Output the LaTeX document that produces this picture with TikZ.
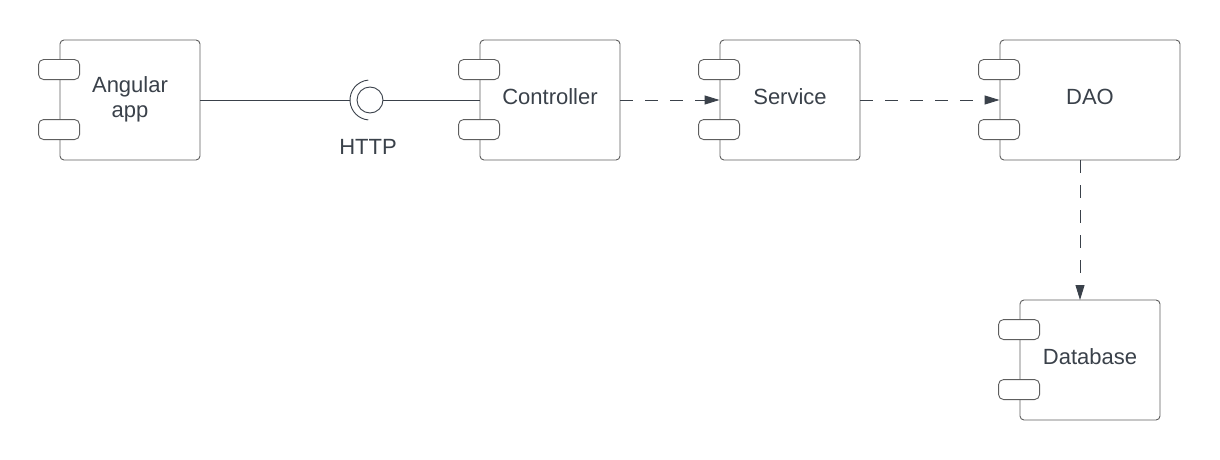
\documentclass[tikz,border=0pt]{standalone}
\usepackage{fontspec}
\setmainfont{Liberation Sans}
\usetikzlibrary{arrows.meta,calc}
\definecolor{boxgray}{HTML}{5E5E5E}
\definecolor{txt}{HTML}{3A414A}
\tikzset{
  comp/.style={draw=boxgray, line width=0.9pt, rounded corners=4pt, fill=white,
    minimum width=140pt, minimum height=120pt, inner sep=0pt, align=center,
    text=txt, font=\fontsize{22}{25}\selectfont, text depth=6pt},
  tab/.style={draw=boxgray, line width=0.9pt, rounded corners=5pt, fill=white},
  lbl/.style={text=txt, font=\fontsize{22}{25}\selectfont, inner sep=0pt},
  conn/.style={draw=txt, line width=0.9pt},
  dep/.style={draw=txt, line width=0.9pt, dash pattern=on 13pt off 12pt,
    -{Triangle[length=15pt,width=9pt]}},
}
\newcommand\comptabs[1]{%
  \draw[tab] ($(#1.north west)+(-21pt,-20pt)$) rectangle ++(41pt,-20pt);
  \draw[tab] ($(#1.north west)+(-21pt,-80pt)$) rectangle ++(41pt,-20pt);
}
\begin{document}
\begin{tikzpicture}[x=1pt,y=-1pt]
\fill[white] (0,0) rectangle (1220,460);
\useasboundingbox (0,0) rectangle (1220,460);

\node[comp] (ang) at (130,100) {Angular\\app};
\node[comp] (ctl) at (550,100) {Controller};
\node[comp] (svc) at (790,100) {Service};
\node[comp, minimum width=180pt] (dao) at (1090,100) {DAO};
\node[comp] (db) at (1090,360) {Database};
\comptabs{ang}
\comptabs{ctl}
\comptabs{svc}
\comptabs{dao}
\comptabs{db}

% provided/required interface (HTTP)
\node[circle, draw=txt, line width=0.9pt, minimum size=26pt, inner sep=0pt] (ball) at (370,100) {};
\draw[conn] (ball.center) ++(95:20pt) arc[start angle=95, end angle=265, radius=20pt];
\coordinate (sockL) at ($(ball.center)+(-20pt,0pt)$);
\node[lbl] (http) at (368,147) {HTTP};

\draw[conn] (ang.east) -- (sockL);
\draw[conn] (ball.east) -- (ctl.west);

\draw[dep] (ctl.east) -- (svc.west);
\draw[dep] (svc.east) -- (dao.west);
\coordinate (daoB) at (1080,160);
\coordinate (dbT) at (1080,300);
\draw[dep] (daoB) -- (dbT);
\end{tikzpicture}
\end{document}
